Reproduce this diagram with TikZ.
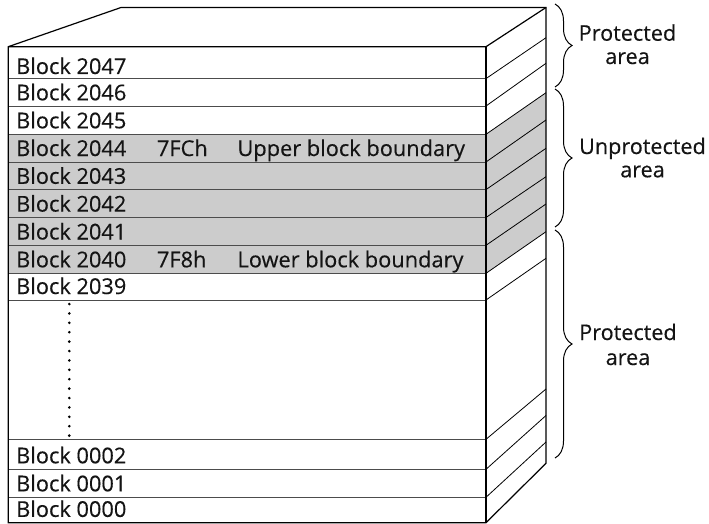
\documentclass[tikz,border=0pt]{standalone}
\usepackage{fontspec}
\setmainfont{Open Sans}
\newfontfamily\lblfont{Open Sans}[FakeBold=0.35]
\usetikzlibrary{decorations.pathreplacing}
\definecolor{shadegray}{RGB}{204,204,204}
\begin{document}
\begin{tikzpicture}[x=1pt,y=-1pt,
  outline/.style={draw=black, line width=1.2pt, line join=miter},
  rowline/.style={draw=black!70, line width=0.9pt},
  sideline/.style={draw=black, line width=0.8pt},
  shadefill/.style={fill=shadegray},
  lbl/.style={font=\lblfont\fontsize{21.8}{24}\selectfont, anchor=base west, inner sep=0pt, text=black!92},
  arealbl/.style={font=\lblfont\fontsize{21.6}{24}\selectfont, anchor=base, inner sep=0pt, text=black!92},
  bracestyle/.style={decorate, decoration={brace, amplitude=17pt}, line width=1pt},
  dotstyle/.style={fill=black}]
\useasboundingbox (0,0) rectangle (709,524);
% corners
\coordinate (FTL) at (8.3,46.7);
\coordinate (FTR) at (486,46.7);
\coordinate (BTL) at (121,7.5);
\coordinate (BTR) at (546,7.5);
\coordinate (FBL) at (8.3,522.7);
\coordinate (FBR) at (486,522.7);
\coordinate (BBR) at (546,463.3);
% shading
\fill[shadefill] (8.3,134.3) rectangle (486,273.3);
\fill[shadefill] (486,134.3) -- (546,92.7) -- (546,231.7) -- (486,273.3) -- cycle;
% row lines on front face
\foreach \y in {78.6,106,134.3,162,189.6,217.5,245.3,273.3,300,439.3,469.3,497.3}
  \draw[rowline] (8.3,\y) -- (486,\y);
% side diagonals
\foreach \f/\b in {78.6/37.7,106/63.3,134.3/92.7,162/120,189.6/148.3,217.5/176.7,245.3/204,273.3/231.7,300/258.3,439.3/389,469.3/415.5,497.3/442}
  \draw[sideline] (486,\f) -- (546,\b);
% outline
\draw[outline] (FBL) -- (FTL) -- (BTL) -- (BTR) -- (BBR) -- (FBR) -- cycle;
\draw[outline] (FTL) -- (FTR) -- (BTR);
\draw[outline] (FTR) -- (FBR);
% labels
\node[lbl] (b2047) at (16,74) {Block 2047};
\node[lbl] (b2046) at (16,100.3) {Block 2046};
\node[lbl] (b2045) at (16,128.3) {Block 2045};
\node[lbl] (b2044) at (16,156) {Block 2044};
\node[lbl] (b2043) at (16,183.8) {Block 2043};
\node[lbl] (b2042) at (16,211.6) {Block 2042};
\node[lbl] (b2041) at (16,239.5) {Block 2041};
\node[lbl] (b2040) at (16,267.3) {Block 2040};
\node[lbl] (b2039) at (16,294) {Block 2039};
\node[lbl] (b0002) at (16,463.3) {Block 0002};
\node[lbl] (b0001) at (16,491.3) {Block 0001};
\node[lbl] (b0000) at (16,516.9) {Block 0000};
\node[lbl] (h7fc) at (156.7,156) {7FCh};
\node[lbl] (h7f8) at (156.7,267.3) {7F8h};
\node[lbl] (upper) at (237.3,156) {Upper block boundary};
\node[lbl] (lower) at (237.3,267.3) {Lower block boundary};
% dots
\foreach \i in {0,...,14}
  \fill[dotstyle] (69.3,304+\i*9.4) circle (1.45pt);
% braces
\draw[bracestyle] (555,4) -- (555,87);
\draw[bracestyle] (555,89) -- (555,227);
\draw[bracestyle] (555,230) -- (555,458);
\node[arealbl] (p1a) at (627.5,40.7) {Protected};
\node[arealbl] (p1b) at (627.5,64) {area};
\node[arealbl] (u1a) at (642.5,154) {Unprotected};
\node[arealbl] (u1b) at (642.5,177.3) {area};
\node[arealbl] (p2a) at (628,340) {Protected};
\node[arealbl] (p2b) at (628,365) {area};
\end{tikzpicture}
\end{document}
